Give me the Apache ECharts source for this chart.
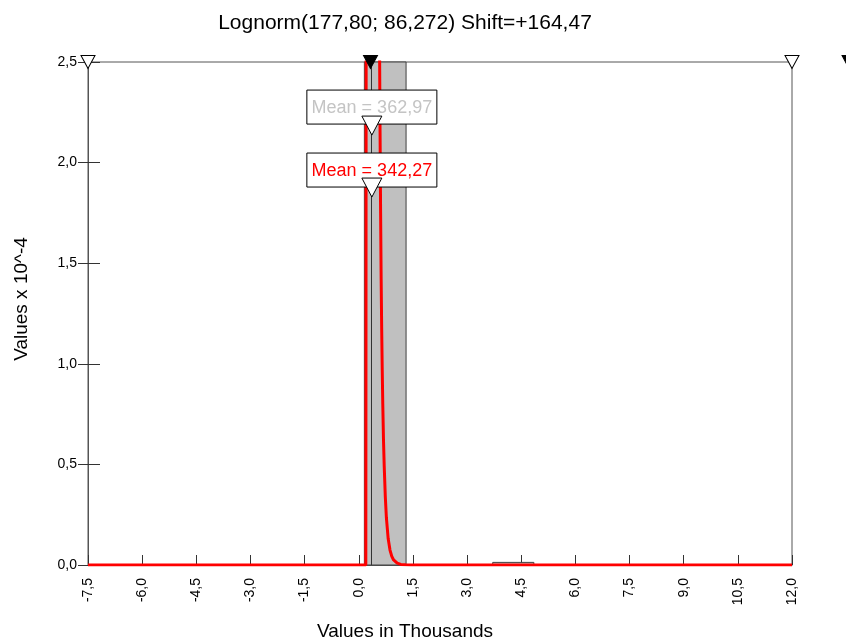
<!DOCTYPE html>
<html>
<head>
<meta charset="utf-8">
<script src="https://cdn.jsdelivr.net/npm/echarts@6/dist/echarts.min.js"></script>
<style>
html, body { margin: 0; padding: 0; background: #fff; }
#main { width: 846px; height: 643px; }
</style>
</head>
<body>
<div id="main"></div>
<script>
var chartTitle = 'Lognorm(177,80; 86,272) Shift=+164,47';

// histogram bins, x in thousands, height in 10^-4
var binLeft = [0.155, 3.71];
var binRight = [1.31, 4.85];
var binHeight = [2.5, 0.013];

// fitted lognormal, points (peak goes above 2,5 and is clipped)
var curveX = [-7.5, 0.195, 0.2, 0.205, 0.57, 0.575, 0.59, 0.605, 0.62, 0.635, 0.65, 0.665, 0.685, 0.705, 0.735, 0.765, 0.815, 0.865, 0.915, 0.965, 1.065, 1.165, 1.3, 1.45, 12.0];
var curveY = [0, 0, 1.2, 2.8, 2.8, 2.6, 2.15, 1.75, 1.42, 1.17, 0.97, 0.8, 0.62, 0.49, 0.34, 0.235, 0.13, 0.074, 0.043, 0.025, 0.009, 0.003, 0.001, 0, 0];

// mean markers
var meanText = ['Mean = 362,97', 'Mean = 342,27'];
var meanColor = ['#c4c4c4', '#ff0000'];
var meanX = [0.363, 0.363];
var meanBoxY = [2.276, 1.963];
var meanArrowY = [2.184, 1.876];
var meanLineX = 0.353;

// delimiter sliders on the top edge
var sliderOpenX = [-7.5, 12.0];
var sliderFilledX = [0.325, 13.58];

function fmt(v) { return v.toFixed(1).replace('.', ','); }

var font = '"Liberation Sans", Arial, sans-serif';
var chart = echarts.init(document.getElementById('main'));

var curve = curveX.map(function (x, i) { return [x, curveY[i]]; });
var bins = binLeft.map(function (x, i) { return [x, binRight[i], binHeight[i]]; });
var means = meanX.map(function (x, i) { return [x, meanBoxY[i], meanArrowY[i]]; });

chart.setOption({
  animation: false,
  title: {
    text: chartTitle,
    left: 400,
    top: 8,
    textAlign: 'center',
    textStyle: { fontFamily: font, fontSize: 21, fontWeight: 'normal', color: '#000' }
  },
  graphic: [
    {
      type: 'text', x: 405, y: 632,
      style: { text: 'Values in Thousands', font: '19px ' + font, fill: '#000', align: 'center', verticalAlign: 'middle' }
    },
    {
      type: 'text', x: 22, y: 299, rotation: Math.PI / 2,
      style: { text: 'Values x 10^-4', font: '19px ' + font, fill: '#000', align: 'center', verticalAlign: 'middle' }
    }
  ],
  grid: {
    left: 88, right: 54, top: 62, bottom: 78,
    show: true, borderColor: '#555', borderWidth: 1, backgroundColor: '#fff'
  },
  xAxis: {
    type: 'value', min: -7.5, max: 12, interval: 1.5,
    splitLine: { show: false },
    axisLine: { show: true, onZero: false, lineStyle: { color: '#555' } },
    axisTick: { show: true, inside: true, length: 10, lineStyle: { color: '#333' } },
    axisLabel: { rotate: 90, margin: 13, fontSize: 14, fontFamily: font, color: '#000', formatter: fmt }
  },
  yAxis: [
    {
      type: 'value', min: 0, max: 2.5, interval: 0.5, position: 'left',
      splitLine: { show: false },
      axisLine: { show: true, onZero: false, lineStyle: { color: '#555' } },
      axisTick: { show: true, inside: false, length: 10, lineStyle: { color: '#333' } },
      axisLabel: { margin: 11, fontSize: 14, fontFamily: font, color: '#000', formatter: fmt }
    },
    {
      type: 'value', min: 0, max: 2.5, interval: 0.5, position: 'left', offset: 0,
      splitLine: { show: false },
      axisLine: { show: false, onZero: false },
      axisTick: { show: true, inside: true, length: 12, lineStyle: { color: '#333' } },
      axisLabel: { show: false }
    }
  ],
  series: [
    {
      type: 'custom',
      data: bins,
      z: 1,
      encode: { x: [0, 1], y: 2 },
      renderItem: function (params, api) {
        var p0 = api.coord([api.value(0), 0]);
        var p1 = api.coord([api.value(1), api.value(2)]);
        return {
          type: 'rect',
          shape: { x: p0[0], y: p1[1], width: p1[0] - p0[0], height: p0[1] - p1[1] },
          style: { fill: '#c0c0c0', stroke: '#404040', lineWidth: 1 }
        };
      }
    },
    {
      type: 'line',
      data: [[meanLineX, 0], [meanLineX, 2.5]],
      z: 2,
      symbol: 'none',
      lineStyle: { color: '#333', width: 1 }
    },
    {
      type: 'line',
      data: curve,
      z: 3,
      symbol: 'none',
      clip: true,
      lineStyle: { color: '#ff0000', width: 3 }
    },
    {
      type: 'custom',
      data: means,
      z: 5,
      encode: { x: 0, y: [1, 2] },
      renderItem: function (params, api) {
        var i = params.dataIndex;
        var box = api.coord([api.value(0), api.value(1)]);
        var tip = api.coord([api.value(0), api.value(2)]);
        return {
          type: 'group',
          children: [
            {
              type: 'rect',
              shape: { x: box[0] - 65, y: box[1] - 17, width: 130, height: 34 },
              style: { fill: '#fff', stroke: '#000', lineWidth: 1 }
            },
            {
              type: 'text', x: box[0], y: box[1] + 1,
              style: { text: meanText[i], fill: meanColor[i], font: '18px ' + font, align: 'center', verticalAlign: 'middle' }
            },
            {
              type: 'polygon',
              shape: { points: [[tip[0] - 10, tip[1] - 9.5], [tip[0] + 10, tip[1] - 9.5], [tip[0], tip[1] + 9.5]] },
              style: { fill: '#fff', stroke: '#000', lineWidth: 1 }
            }
          ]
        };
      }
    },
    {
      type: 'scatter',
      z: 6,
      clip: false,
      symbol: 'triangle',
      symbolRotate: 180,
      symbolSize: [14, 13],
      itemStyle: { color: '#fff', borderColor: '#000', borderWidth: 1, opacity: 1 },
      data: sliderOpenX.map(function (x) { return [x, 2.5]; })
    },
    {
      type: 'scatter',
      z: 6,
      clip: false,
      symbol: 'triangle',
      symbolRotate: 180,
      symbolSize: [14, 13],
      itemStyle: { color: '#000', borderColor: '#000', borderWidth: 1, opacity: 1 },
      data: sliderFilledX.map(function (x) { return [x, 2.5]; })
    }
  ]
});
</script>
</body>
</html>
